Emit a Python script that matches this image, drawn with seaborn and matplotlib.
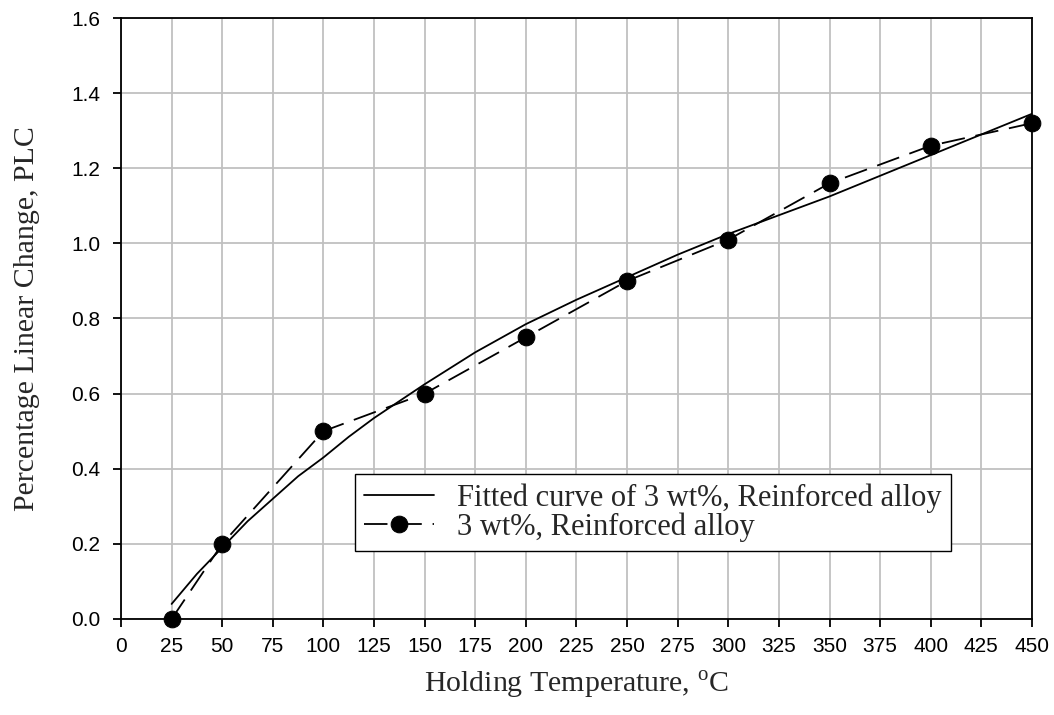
import numpy as np
import pandas as pd
import seaborn as sns
import matplotlib.pyplot as plt

# measured points
temp = [25, 50, 100, 150, 200, 250, 300, 350, 400, 450]
plc = [0.0, 0.20, 0.50, 0.60, 0.75, 0.90, 1.01, 1.16, 1.26, 1.32]

# fitted curve
fit_temp = [25, 37.5, 50, 62.5, 75, 87.5, 100, 112.5, 125, 150, 175, 200,
            225, 250, 275, 300, 325, 350, 375, 400, 425, 450]
fit_plc = [0.04, 0.12, 0.19, 0.26, 0.32, 0.38, 0.43, 0.485, 0.535, 0.625,
           0.71, 0.785, 0.85, 0.91, 0.97, 1.025, 1.075, 1.125, 1.18, 1.235,
           1.29, 1.345]

sns.set_style("ticks")
plt.rcParams['font.family'] = ['Liberation Sans', 'DejaVu Sans']
plt.rcParams['mathtext.fontset'] = 'custom'
plt.rcParams['mathtext.rm'] = 'Liberation Serif'

fig = plt.figure(figsize=(10.54, 7.15), dpi=100)
ax = fig.add_axes([0.1148, 0.1343, 0.8643, 0.8405])

sns.lineplot(x=fit_temp, y=fit_plc, ax=ax, color='black', linewidth=1.3,
             label='Fitted curve of 3 wt%, Reinforced alloy')
sns.lineplot(x=temp, y=plc, ax=ax, color='black', linewidth=1.3,
             marker='o', markersize=12, markeredgecolor='black',
             dashes=False, label='3 wt%, Reinforced alloy', clip_on=False)
ax.lines[1].set_dashes([13, 6])

ax.set_xlim(0, 450)
ax.set_ylim(0, 1.6)
ax.set_xticks(np.arange(0, 451, 25))
ax.set_yticks(np.arange(0, 1.61, 0.2))
ax.set_yticklabels([f'{v:.1f}' for v in np.arange(0, 1.61, 0.2)])
ax.grid(True, color='#c0c0c0', linewidth=1.3)
ax.set_axisbelow(True)
for s in ax.spines.values():
    s.set_color('black')
    s.set_linewidth(1.3)
ax.tick_params(direction='out', length=6, width=1.3, labelsize=15,
               colors='black')
ax.tick_params(axis='x', pad=7)
ax.tick_params(axis='y', pad=9)

ax.set_xlabel('Holding Temperature, $^{\\rm o}$C', fontsize=21.5,
              family='Liberation Serif', labelpad=9)
ax.set_ylabel('Percentage Linear Change, PLC', fontsize=21.5,
              family='Liberation Serif', labelpad=22)

leg = ax.legend(loc='upper left', bbox_to_anchor=(0.2569, 0.2412),
                borderaxespad=0, fancybox=False, framealpha=1,
                edgecolor='black',
                prop={'family': 'Liberation Serif', 'size': 22},
                handlelength=2.3, handletextpad=0.75, borderpad=0.3,
                labelspacing=0.0)
leg.get_frame().set_linewidth(1.0)

plt.savefig('out.png', dpi=100)
